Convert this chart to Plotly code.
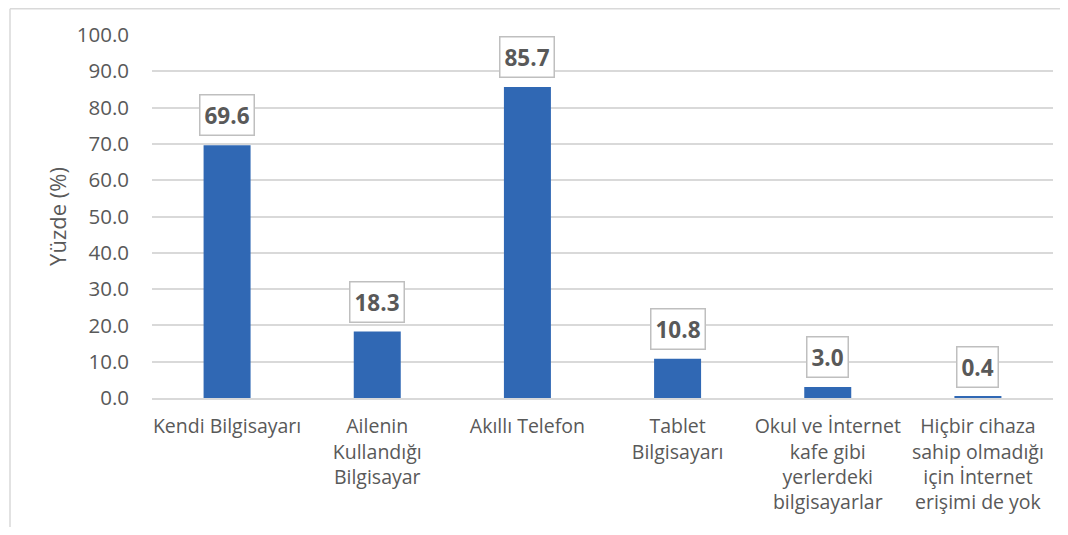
import plotly.graph_objects as go

categories = [
    "Kendi Bilgisayarı",
    "Ailenin<br>Kullandığı<br>Bilgisayar",
    "Akıllı Telefon",
    "Tablet<br>Bilgisayarı",
    "Okul ve İnternet<br>kafe gibi<br>yerlerdeki<br>bilgisayarlar",
    "Hiçbir cihaza<br>sahip olmadığı<br>için İnternet<br>erişimi de yok",
]
values = [69.6, 18.3, 85.7, 10.8, 3.0, 0.4]
tick_vals = [0, 10, 20, 30, 40, 50, 60, 70, 80, 90, 100]

FONT = "'Open Sans', 'Segoe UI', sans-serif"
GRAY = "#595959"

fig = go.Figure()
fig.add_trace(go.Bar(
    x=categories, y=values,
    marker=dict(color="#3068b4", line=dict(width=0)),
    hoverinfo="x+y",
))

for c, v in zip(categories, values):
    fig.add_annotation(
        x=c, y=v, xref="x", yref="y",
        text=f"<b>{v:.1f}</b>",
        showarrow=False, yanchor="bottom", yshift=9,
        font=dict(family=FONT, size=22.5, color=GRAY),
        bordercolor="#bfbfbf", borderwidth=1.5, borderpad=4,
        bgcolor="white",
    )

# chart outer border (top and left visible)
fig.add_shape(type="line", xref="paper", yref="paper",
              x0=-0.1576, x1=1.03, y0=1.072, y1=1.072,
              line=dict(color="#d9d9d9", width=1.5))
fig.add_shape(type="line", xref="paper", yref="paper",
              x0=-0.1576, x1=-0.1576, y0=1.072, y1=-0.5,
              line=dict(color="#d9d9d9", width=1.5))

fig.update_layout(
    width=1052, height=519,
    margin=dict(l=144, r=7, t=27, b=129),
    paper_bgcolor="white", plot_bgcolor="white",
    bargap=0.687,
    showlegend=False,
    font=dict(family=FONT, size=19.5, color=GRAY),
    xaxis=dict(
        showgrid=False, showline=True, linecolor="#d9d9d9", linewidth=2,
        ticks="", tickfont=dict(family=FONT, size=19.5, color=GRAY),
        ticklabelstandoff=10,
    ),
    yaxis=dict(
        range=[0, 100], tickvals=tick_vals,
        ticktext=[f"{t:.1f}" for t in tick_vals],
        showgrid=True, gridcolor="#d9d9d9", gridwidth=1.5,
        zeroline=False, showline=False, ticks="",
        tickfont=dict(family=FONT, size=20.5, color=GRAY),
        ticklabelstandoff=22,
        title=dict(text="Yüzde (%)", font=dict(family=FONT, size=22, color=GRAY), standoff=4),
    ),
)

fig.write_html("out.html")
